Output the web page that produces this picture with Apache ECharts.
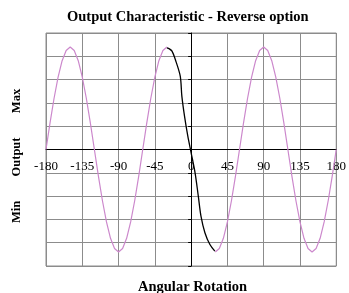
<!DOCTYPE html>
<html>
<head>
<meta charset="utf-8">
<script src="https://cdn.jsdelivr.net/npm/echarts@6/dist/echarts.min.js"></script>
<style>
  html, body { margin: 0; padding: 0; background: #fff; }
  #chart { width: 349px; height: 293px; }
</style>
</head>
<body>
<div id="chart"></div>
<script>
// angle ticks along the x axis
const xTicks = [-180, -135, -90, -45, 0, 45, 90, 135, 180];

// full output curve (pink), every 5 degrees from -180 to 180
// (hidden behind the measured black trace between -30 and 30)
const pinkAngles = [
  -180, -175, -170, -165, -160, -155, -150, -145, -140, -135, -130, -125,
  -120, -115, -110, -105, -100, -95, -90, -85, -80, -75, -70, -65,
  -60, -55, -50, -45, -40, -35, -30, -25, -20, -15, -10, -5,
  0, 5, 10, 15, 20, 25, 30, 35, 40, 45, 50, 55,
  60, 65, 70, 75, 80, 85, 90, 95, 100, 105, 110, 115,
  120, 125, 130, 135, 140, 145, 150, 155, 160, 165, 170, 175, 180
];
const pinkValues = [
  0, 1.14, 2.2, 3.11, 3.81, 4.25, 4.4, 4.25, 3.81, 3.11, 2.2, 1.14,
  0, -1.14, -2.2, -3.11, -3.81, -4.25, -4.4, -4.25, -3.81, -3.11, -2.2, -1.14,
  0, 1.14, 2.2, 3.11, 3.81, 4.25, 4.4, null, null, null, null, null,
  null, null, null, null, null, null, -4.4, -4.25, -3.81, -3.11, -2.2, -1.14,
  0, 1.14, 2.2, 3.11, 3.81, 4.25, 4.4, 4.25, 3.81, 3.11, 2.2, 1.14,
  0, -1.14, -2.2, -3.11, -3.81, -4.25, -4.4, -4.25, -3.81, -3.11, -2.2, -1.14, 0
];

// measured (black) segment around zero
const blackAngles = [-30, -27, -23.7, -19.6, -13.5, -11.5, -8.2, -4.1, 0, 4.9, 8.9, 12.2, 17.1, 23.3, 29.4];
const blackValues = [4.36, 4.32, 4.22, 3.86, 3.15, 2.29, 1.43, 0.57, -0.14, -1.0, -2.0, -2.86, -3.57, -4.08, -4.36];

const zip = (xs, ys) => xs.map((x, i) => [x, ys[i] === null ? '-' : ys[i]]);

const chart = echarts.init(document.getElementById('chart'));
const serif = 'Liberation Serif';
const gridColor = '#8c8c8c';

const option = {
  animation: false,
  backgroundColor: '#fff',
  title: [
    {
      text: 'Output Characteristic - Reverse option',
      left: 67,
      top: 10,
      padding: 0,
      textStyle: { fontFamily: serif, fontSize: 14.5, fontWeight: 'bold', color: '#000' }
    },
    {
      text: 'Angular Rotation',
      left: 138,
      top: 280,
      padding: 0,
      textStyle: { fontFamily: serif, fontSize: 14.5, fontWeight: 'bold', color: '#000' }
    }
  ],
  graphic: [
    { type: 'text', x: 17, y: 101, rotation: Math.PI / 2,
      style: { text: 'Max', font: 'bold 12.5px "Liberation Serif"', fill: '#000', textAlign: 'center', textVerticalAlign: 'middle' } },
    { type: 'text', x: 17, y: 157, rotation: Math.PI / 2,
      style: { text: 'Output', font: 'bold 12.5px "Liberation Serif"', fill: '#000', textAlign: 'center', textVerticalAlign: 'middle' } },
    { type: 'text', x: 17, y: 212, rotation: Math.PI / 2,
      style: { text: 'Min', font: 'bold 12.5px "Liberation Serif"', fill: '#000', textAlign: 'center', textVerticalAlign: 'middle' } }
  ],
  grid: {
    left: 46, right: 9, top: 33, bottom: 27,
    show: true, borderColor: gridColor, borderWidth: 1
  },
  xAxis: {
    type: 'value',
    min: xTicks[0],
    max: xTicks[xTicks.length - 1],
    interval: 45,
    offset: -116.5,
    axisLine: { onZero: false, lineStyle: { color: '#000', width: 1 } },
    axisTick: { show: false },
    axisLabel: { fontFamily: serif, fontSize: 13, color: '#000', margin: 11 },
    splitLine: { show: true, lineStyle: { color: gridColor, width: 1 } }
  },
  yAxis: {
    type: 'value',
    min: -5,
    max: 5,
    interval: 1,
    axisLine: { onZero: true, lineStyle: { color: '#000', width: 1 } },
    axisTick: { show: true, length: 3, inside: false, lineStyle: { color: '#000' } },
    axisLabel: { show: false },
    splitLine: { show: true, lineStyle: { color: gridColor, width: 1 } }
  },
  series: [
    {
      type: 'line',
      data: zip(pinkAngles, pinkValues),
      showSymbol: false,
      connectNulls: false,
      lineStyle: { color: '#cc88cc', width: 1.2 },
      z: 2
    },
    {
      type: 'line',
      data: zip(blackAngles, blackValues),
      showSymbol: false,
      smooth: 0.3,
      lineStyle: { color: '#000', width: 1.3 },
      z: 3
    }
  ]
};

chart.setOption(option);
</script>
</body>
</html>
